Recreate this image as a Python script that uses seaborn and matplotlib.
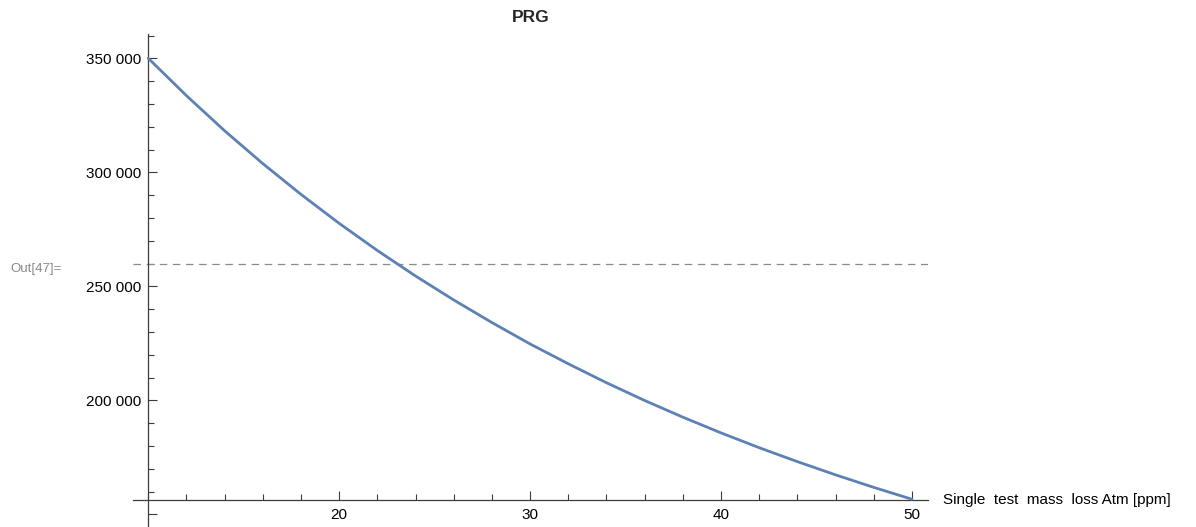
import matplotlib
matplotlib.use("Agg")
import matplotlib.pyplot as plt
import matplotlib.ticker as mticker
import seaborn as sns
import pandas as pd

# ---- data ----
mass_loss_ppm = [10, 12, 14, 16, 18, 20, 22, 24, 26, 28, 30,
                 32, 34, 36, 38, 40, 42, 44, 46, 48, 50]
prg_values = [350000, 333600, 318200, 303800, 290300, 277600, 265700,
              254500, 244000, 234100, 224700, 216000, 207700, 199900,
              192600, 185700, 179200, 173100, 167300, 161800, 156600]
threshold = 260000
x_major_ticks = [20, 30, 40, 50]
y_major_ticks = [150000, 200000, 250000, 300000, 350000]
title_text = "PRG"
x_label_text = "Single  test  mass  loss Atm [ppm]"
out_label_text = "Out[47]="

df = pd.DataFrame({"x": mass_loss_ppm, "y": prg_values})

sns.set_style("white")
plt.rcParams["font.family"] = ["Liberation Sans", "DejaVu Sans"]

W, H = 1196, 527
fig = plt.figure(figsize=(W / 100, H / 100), dpi=100)
ax = fig.add_axes([133 / W, 0.0, (928 - 133) / W, 493 / H])

sns.lineplot(data=df, x="x", y="y", ax=ax, color="#5E81B5", linewidth=2.0,
             zorder=3)
ax.axhline(threshold, color="#8a8a8a", linewidth=0.9,
           linestyle=(0, (6, 4.5)), zorder=2)

ax.set_xlim(9.199, 50.84)
ax.set_ylim(144430, 360660)

for s in ("top", "right"):
    ax.spines[s].set_visible(False)
ax.spines["left"].set_position(("data", 10))
ax.spines["bottom"].set_position(("data", 156400))
for s in ("left", "bottom"):
    ax.spines[s].set_color("#3c3c3c")
    ax.spines[s].set_linewidth(0.9)

ax.xaxis.set_major_locator(mticker.FixedLocator(x_major_ticks))
ax.xaxis.set_minor_locator(mticker.MultipleLocator(2))
ax.yaxis.set_major_locator(mticker.FixedLocator(y_major_ticks))
ax.yaxis.set_minor_locator(mticker.MultipleLocator(10000))


def yfmt(v, pos):
    if v < 160000:
        return ""
    return f"{int(v):,}".replace(",", " ")


ax.yaxis.set_major_formatter(mticker.FuncFormatter(yfmt))
ax.xaxis.set_major_formatter(mticker.FuncFormatter(lambda v, p: f"{int(v)}"))

ax.tick_params(axis="both", which="both", bottom=True, left=True,
               top=False, right=False)
ax.tick_params(axis="both", which="major", direction="in", length=6.5,
               width=0.8, color="#3c3c3c", labelsize=11, labelcolor="black")
ax.tick_params(axis="both", which="minor", direction="in", length=4,
               width=0.8, color="#3c3c3c")
ax.tick_params(axis="x", which="major", pad=6)
ax.tick_params(axis="y", which="major", pad=5)

ax.set_xlabel("")
ax.set_ylabel("")
ax.set_title(title_text, fontsize=12.5, fontweight="bold", pad=9)

fig.text(943 / W, 1 - 500 / H, x_label_text, fontsize=11, ha="left",
         va="center", color="black")
fig.text(10 / W, 1 - 269 / H, out_label_text, fontsize=9.5, ha="left",
         va="center", color="#8a8a8a")

fig.savefig("out.png", dpi=100, facecolor="white")
